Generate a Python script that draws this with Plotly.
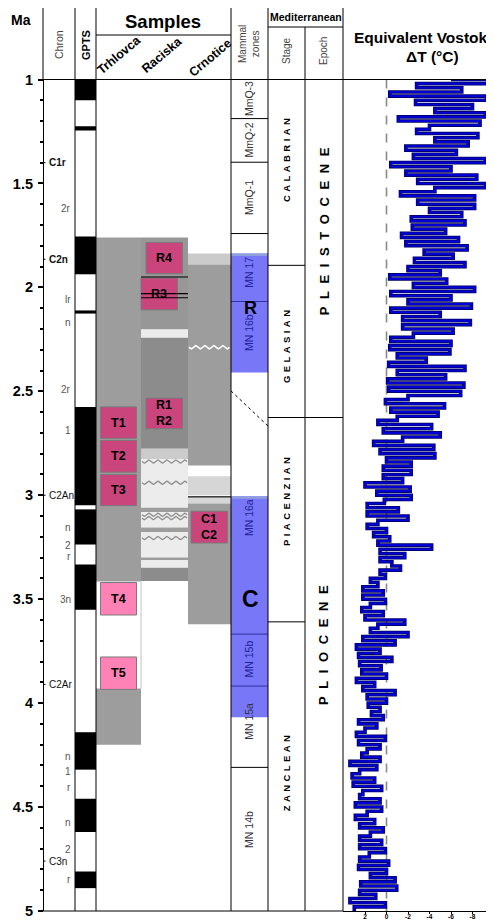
import math
import plotly.graph_objects as go

# ---------------- data ----------------
ma_tickvals = [1, 1.5, 2, 2.5, 3, 3.5, 4, 4.5, 5]
ma_ticktext = ["1", "1.5", "2", "2.5", "3", "3.5", "4", "4.5", "5"]

# GPTS normal-polarity (black) intervals, Ma
gpts_normal_top = [1.000, 1.225, 1.755, 2.111, 2.575, 3.068, 3.333, 4.140, 4.460, 4.810]
gpts_normal_base = [1.100, 1.245, 1.937, 2.126, 3.048, 3.237, 3.551, 4.320, 4.620, 4.890]

chron_major = ["C1r", "C2n", "C2An", "C2Ar", "C3n"]
chron_major_age = [1.40, 1.865, 3.00, 3.91, 4.76]
chron_sub = ["2r", "lr", "n", "2r", "1", "n", "2", "r", "3n", "n", "1", "r", "n", "2", "r"]
chron_sub_age = [1.62, 2.06, 2.17, 2.49, 2.69, 3.155, 3.24, 3.295, 3.50, 4.255, 4.33, 4.405, 4.575, 4.705, 4.85]

site_names = ["Trhlovca", "Raciska", "Crnotice"]

# lithology blocks in the sample columns
litho_site = ["Trhlovca", "Trhlovca",
              "Raciska", "Raciska", "Raciska", "Raciska", "Raciska", "Raciska", "Raciska",
              "Raciska", "Raciska", "Raciska", "Raciska", "Raciska",
              "Crnotice", "Crnotice", "Crnotice", "Crnotice", "Crnotice"]
litho_top = [1.760, 3.930,
             1.760, 2.203, 2.242, 2.776, 2.827, 3.060, 3.080, 3.155, 3.177, 3.300, 3.313, 3.349,
             1.837, 1.890, 2.908, 3.013, 3.040]
litho_base = [3.415, 4.200,
              2.203, 2.242, 2.776, 2.827, 3.060, 3.080, 3.155, 3.177, 3.300, 3.313, 3.349, 3.413,
              1.890, 2.857, 3.000, 3.040, 3.620]
litho_kind = ["mid", "mid",
              "mid2", "pale", "dark", "light", "pale", "mid", "pale", "mid", "pale", "mid", "pale", "dark",
              "light", "mid", "light2", "light2", "mid"]

raciska_wavy_age = [2.838, 2.940, 3.094, 3.110, 3.206]
crnotice_wavy_age = [2.288]
raciska_black_line_age = [1.950, 2.030, 2.050]
crnotice_black_line_age = [3.008]

sample_names = ["T1", "T2", "T3", "T4", "T5", "R4", "R3", "R1<br>R2", "C1<br>C2"]
sample_site = ["Trhlovca"] * 5 + ["Raciska"] * 3 + ["Crnotice"]
sample_top = [2.575, 2.736, 2.900, 3.420, 3.778, 1.784, 1.955, 2.533, 3.077]
sample_base = [2.726, 2.889, 3.050, 3.576, 3.934, 1.934, 2.108, 2.680, 3.230]
sample_light = [False, False, False, True, True, False, False, False, False]

mmq_names = ["MmQ-3", "MmQ-2", "MmQ-1"]
mmq_top = [1.000, 1.188, 1.398]
mmq_base = [1.188, 1.398, 1.741]
mn_names = ["MN 17", "MN 16b", "MN 16a", "MN 15b", "MN 15a", "MN 14b"]
mn_label_age = [1.93, 2.22, 3.11, 3.79, 4.09, 4.61]
mn_boundaries = [2.068, 3.668, 3.918]
mn_black_lines = [1.188, 1.398, 1.741, 4.309]
fauna_names = ["R", "C"]
fauna_top = [1.837, 3.005]
fauna_base = [2.409, 4.068]
fauna_label_age = [2.097, 3.50]
fauna_diag_age = [2.498, 2.667]

stage_names = ["CALABRIAN", "GELASIAN", "PIACENZIAN", "ZANCLEAN"]
stage_bounds = [1.894, 2.626, 3.609]
stage_label_age = [1.39, 2.285, 3.03, 4.34]
epoch_names = ["PLEISTOCENE", "PLIOCENE"]
epoch_bounds = [2.626]
epoch_label_age = [1.73, 3.72]

# Equivalent Vostok dT (deg C), one value every 0.02 Ma from 1.00 to 5.00
vostok_temp = [
    -6.0, -9.9, -2.8, -7.0, -0.3,   # 1.0
    -9.3, -2.7, -8.0, -4.5, -9.2,   # 1.1
    -1.1, -8.7, -4.0, -2.8, -8.5,   # 1.2
    -4.5, -7.6, -1.8, -6.5, -2.5,   # 1.3
    -9.2, -0.4, -6.0, -1.8, -8.4,   # 1.4
    -2.9, -9.2, -4.5, -1.3, -8.2,   # 1.5
    -2.9, -8.2, -4.0, -7.0, -2.3,   # 1.6
    -7.3, -2.4, -5.5, -1.4, -6.7,   # 1.7
    -1.8, -7.5, -3.5, -6.2, -2.6,   # 1.8
    -7.3, -2.0, -5.0, -0.3, -5.6,   # 1.9
    -2.5, -8.2, -0.4, -6.0, -2.0,   # 2.0
    -7.9, -0.4, -5.0, -1.5, -7.8,   # 2.1
    -1.5, -6.2, -2.5, -0.4, -6.0,   # 2.2
    -0.3, -5.9, -1.0, -3.7, -0.2,   # 2.3
    -7.3, -1.0, -5.5, -0.1, -7.2,   # 2.4
    -0.2, -6.9, -2.0, 0.1, -5.4,    # 2.5
    -0.4, -4.8, -1.0, 0.8, -4.2,    # 2.6
    0.3, -5.0, -1.5, 1.2, -4.4,     # 2.7
    0.6, -4.5, 0.0, -2.3, 0.3,      # 2.8
    -2.3, 0.3, -1.5, 2.0, -2.2,     # 2.9
    0.9, -2.3, 0.2, 1.8, -1.1,      # 3.0
    1.8, -2.0, 0.8, 1.8, 0.0,       # 3.1
    1.2, -0.3, 0.8, -4.2, 0.6,      # 3.2
    -1.7, 0.6, -0.5, -1.3, 0.6,     # 3.3
    0.1, 1.5, 0.8, 2.2, 0.3,        # 3.4
    2.2, 0.1, 1.5, 2.3, 0.3,        # 3.5
    2.0, -1.7, 0.8, 1.5, -2.0,      # 3.6
    2.2, -0.8, 2.8, 0.6, 2.6,       # 3.7
    -0.5, 2.5, 0.5, 2.3, 0.0,       # 3.8
    2.8, 1.1, 2.2, -0.8, 1.8,       # 3.9
    0.0, 1.7, 0.6, 1.4, 0.3,        # 4.0
    2.6, 0.9, 2.0, 2.8, 0.1,        # 4.1
    2.6, 0.6, 1.8, 2.3, 0.6,        # 4.2
    3.4, 0.9, 2.5, 3.2, 1.1,        # 4.3
    3.1, 0.45, 2.2, 2.5, 0.6,       # 4.4
    2.9, 0.45, 1.8, 2.9, 1.1,       # 4.5
    2.5, 0.3, 1.5, 2.5, 0.45,       # 4.6
    2.5, 0.1, 1.6, 2.5, -0.2,       # 4.7
    2.6, 0.0, 1.5, -0.8, 2.4,       # 4.8
    -0.95, 2.5, 1.0, 3.4, 0.1,      # 4.9
    3.0,                            # 5.0
]
vostok_age = [round(1.0 + 0.02 * i, 2) for i in range(len(vostok_temp))]
vostok_ticks = [2, 0, -2, -4, -6, -8]

# ---------------- layout constants (style) ----------------
FONT = "Liberation Sans, Arial, sans-serif"
OFF = 8                      # page body margin of the browser
W_SCR, H_SCR = 494, 922      # screen size
W, H = W_SCR - OFF, H_SCR - OFF
PX_TOP, PX_BOT = 79.5, 911.0
X_AX, X_CHR, X_GPTS, X_SMP, X_MAM, X_STG, X_EPO, X_END = 43, 75, 96, 231, 268, 305, 343, 494
HDR_TOP = 7
SITE_X = {"Trhlovca": (96, 141), "Raciska": (141, 188), "Crnotice": (188, 231)}
BOX_X = {"Trhlovca": (100.5, 136.5), "Raciska": (146, 182.5), "Crnotice": (191, 227.5)}
BOX_SHIFT = {"R3": -5}
LITHO_COL = {"mid": "#9d9d9d", "mid2": "#979797", "dark": "#8c8c8c", "light": "#cbcbcb",
             "light2": "#d6d6d6", "pale": "#ececec"}
BLUE = "#7777f8"
NBSP = "\u00a0"


def yp(pix):
    return 1 - (pix - OFF) / H


def xp(pix):
    return (pix - OFF) / W


shapes, annos = [], []


def add_rect(x0, x1, y0, y1, fill, lc=None, lw=0, xref="x", yref="y", layer="below"):
    shapes.append(dict(type="rect", xref=xref, yref=yref, x0=x0, x1=x1, y0=y0, y1=y1,
                       fillcolor=fill, line=dict(color=lc or fill, width=lw), layer=layer))


def add_line(x0, y0, x1, y1, color="black", width=1, dash="solid", xref="x", yref="y", layer="above"):
    shapes.append(dict(type="line", xref=xref, yref=yref, x0=x0, y0=y0, x1=x1, y1=y1,
                       line=dict(color=color, width=width, dash=dash), layer=layer))


def add_text(x, y, text, size=10, color="black", bold=False, angle=0, xref="x", yref="y",
             xanchor="center", yanchor="middle"):
    annos.append(dict(x=x, y=y, xref=xref, yref=yref, text=text, showarrow=False, textangle=angle,
                      xanchor=xanchor, yanchor=yanchor,
                      font=dict(family=FONT, size=size, color=color,
                                weight="bold" if bold else "normal")))


def spaced(word, sep):
    return sep.join(list(word))


fig = go.Figure()

# ---- GPTS ----
for t, b in zip(gpts_normal_top, gpts_normal_base):
    add_rect(X_CHR, X_GPTS, t, b, "black")

# ---- lithology ----
for s, t, b, k in zip(litho_site, litho_top, litho_base, litho_kind):
    x0, x1 = SITE_X[s]
    add_rect(x0, x1, t, b, LITHO_COL[k])

# ---- samples ----
for n, s, t, b, light in zip(sample_names, sample_site, sample_top, sample_base, sample_light):
    x0, x1 = BOX_X[s]
    sh = BOX_SHIFT.get(n, 0)
    add_rect(x0 + sh, x1 + sh, t, b, "#ff82b6" if light else "#c9457c", lc="#7a7a7a", lw=1)
    add_text((x0 + x1) / 2 + sh, (t + b) / 2, n, size=12.5, bold=True)

for a in raciska_black_line_age:
    add_line(SITE_X["Raciska"][0], a, SITE_X["Raciska"][1], a, width=1.2)
for a in crnotice_black_line_age:
    add_line(SITE_X["Crnotice"][0], a, SITE_X["Crnotice"][1], a, width=1.2)
add_line(141, 3.415, 141, 3.93, color="#c0c0c0", width=1)


def wave(age, x0, x1, amp=0.0075, period=9.0):
    xs, ys = [], []
    n = int((x1 - x0) / 0.75) + 1
    for i in range(n):
        x = x0 + i * 0.75
        xs.append(x)
        ys.append(age + amp * math.sin(2 * math.pi * (x - x0) / period))
    return xs, ys


for a in raciska_wavy_age:
    xs, ys = wave(a, 142, 187)
    fig.add_trace(go.Scatter(x=xs, y=ys, mode="lines", line=dict(color="#8e8e8e", width=1.3),
                             hoverinfo="skip", xaxis="x", yaxis="y"))
for a in crnotice_wavy_age:
    xs, ys = wave(a, 189, 230)
    fig.add_trace(go.Scatter(x=xs, y=ys, mode="lines", line=dict(color="white", width=1.6),
                             hoverinfo="skip", xaxis="x", yaxis="y"))

# ---- mammal zones ----
for n, t, b in zip(fauna_names, fauna_top, fauna_base):
    add_rect(X_SMP, X_MAM, t, b, BLUE)
    add_rect(X_SMP, X_MAM, t, t + 0.012, "#8f9fdc")
for a in mn_boundaries:
    add_line(X_SMP, a, X_MAM, a, color="#3030a0", width=1)
for a in mn_black_lines:
    add_line(X_SMP, a, X_MAM, a, color="black", width=1)
add_line(X_SMP, fauna_diag_age[0], X_MAM, fauna_diag_age[1], color="black", width=1, dash="dot")
for n, t, b in zip(mmq_names, mmq_top, mmq_base):
    add_text(249, (t + b) / 2, n, size=10.5, color="#333333", angle=-90)
for n, a in zip(mn_names, mn_label_age):
    inside = any(t <= a <= b for t, b in zip(fauna_top, fauna_base))
    add_text(249, a, n, size=10.5, color="#23239a" if inside else "#333344", angle=-90)
add_text(250, fauna_label_age[0], fauna_names[0], size=18, bold=True)
add_text(250, fauna_label_age[1], fauna_names[1], size=23, bold=True)

# ---- stage / epoch ----
for a in stage_bounds:
    add_line(X_MAM, a, X_STG, a)
for a in epoch_bounds:
    add_line(X_STG, a, X_EPO, a)
for n, a in zip(stage_names, stage_label_age):
    add_text(286.5, a, spaced(n, NBSP + "\u200a"), size=9.5, bold=True, angle=-90)
for n, a in zip(epoch_names, epoch_label_age):
    add_text(324, a, spaced(n, "\u2002\u200a"), size=13, bold=True, angle=-90)

# ---- chron labels ----
for n, a in zip(chron_major, chron_major_age):
    add_text(46.5, a, n, size=10, bold=n in ("C1r", "C2n"), color="#111111", xanchor="left")
    add_line(X_AX, a, X_AX + 2.5, a, width=1)
for n, a in zip(chron_sub, chron_sub_age):
    add_text(72.5, a, n, size=10, color="#555555", xanchor="right")

# ---- Vostok ----
shapes.append(dict(type="line", xref="x2", yref="y", x0=0, x1=0, y0=1.0, y1=5.0,
                   line=dict(color="#8a8a8a", width=1.6, dash="dash"), layer="below"))
fig.add_trace(go.Scatter(x=vostok_temp, y=vostok_age, xaxis="x2", yaxis="y", mode="lines",
                         line=dict(color="#00005a", width=3.6, shape="hv"), hoverinfo="skip"))
fig.add_trace(go.Scatter(x=vostok_temp, y=vostok_age, xaxis="x2", yaxis="y", mode="lines",
                         line=dict(color="#0000d4", width=2.1, shape="hv"), hoverinfo="skip"))

# ---- frame lines (paper) ----
def pline(x0, y0, x1, y1, width=1, color="black"):
    shapes.append(dict(type="line", xref="paper", yref="paper", x0=xp(x0), y0=yp(y0),
                       x1=xp(x1), y1=yp(y1), line=dict(color=color, width=width), layer="above"))


pline(X_AX, HDR_TOP, X_END, HDR_TOP, width=1.3)
pline(X_AX - 3, PX_TOP, X_END, PX_TOP, width=1.2)
pline(X_GPTS, 35, X_SMP, 35)
pline(X_MAM, 27, X_EPO, 27)
for xv in (X_AX, X_CHR, X_GPTS, X_SMP, X_MAM, X_EPO):
    pline(xv, HDR_TOP, xv, PX_TOP)
pline(X_STG, 27, X_STG, PX_TOP)
for xv in (X_CHR, X_GPTS, X_SMP, X_MAM, X_STG, X_EPO):
    pline(xv, PX_TOP, xv, PX_BOT)
pline(X_AX, PX_BOT, X_EPO, PX_BOT)

# ---- header texts ----
def htext(x, y, text, **kw):
    add_text(xp(x), yp(y), text, xref="paper", yref="paper", **kw)


htext(21, 20, "Ma", size=14, bold=True)
htext(59, 45, "Chron", size=10.5, color="#444444", angle=-90)
htext(86, 45, "GPTS", size=11, bold=True, angle=-90)
htext(163, 21, "Samples", size=18.5, bold=True)
htext(119, 55, site_names[0], size=12.5, bold=True, angle=-40)
htext(162, 55, site_names[1], size=12.5, bold=True, angle=-40)
htext(210, 58, site_names[2], size=12.5, bold=True, angle=-40)
htext(249, 44, "Mammal<br>zones", size=10, color="#444444", angle=-90)
htext(306, 17.5, "Mediterranean", size=10.5, bold=True)
htext(287, 51, "Stage", size=10, color="#444444", angle=-90)
htext(324, 51, "Epoch", size=10, color="#444444", angle=-90)
htext(421, 38, "Equivalent Vostok", size=15.5, bold=True)
htext(432, 57, "\u0394T (\u00b0C)", size=15.5, bold=True)

minor_vals = [round(1 + 0.1 * i, 1) for i in range(41) if i % 5 != 0]

fig.update_layout(
    template="none",
    width=W, height=H, margin=dict(l=0, r=0, t=0, b=0, pad=0, autoexpand=False),
    paper_bgcolor="white", plot_bgcolor="white", showlegend=False,
    font=dict(family=FONT),
    xaxis=dict(domain=[0, 1], range=[OFF, W_SCR], visible=False, fixedrange=True, automargin=False),
    yaxis=dict(domain=[yp(PX_BOT), yp(PX_TOP)], range=[5, 1], anchor="free", position=xp(X_AX),
               automargin=False,
               tickmode="array", tickvals=ma_tickvals, ticktext=ma_ticktext,
               ticks="outside", ticklen=5, tickwidth=1.5, tickcolor="black",
               showline=True, linecolor="black", linewidth=1.2, showgrid=False, zeroline=False,
               tickfont=dict(family=FONT, size=14.5, color="black", weight="bold"),
               ticklabelstandoff=2,
               minor=dict(tickmode="array", tickvals=minor_vals, ticks="outside", ticklen=3,
                          tickcolor="black", showgrid=False)),
    xaxis2=dict(domain=[xp(X_EPO), 1], range=[4.047, -10.0], anchor="y", automargin=False,
                tickmode="array", tickvals=vostok_ticks, ticktext=[str(v) for v in vostok_ticks],
                ticks="outside", ticklen=2, tickcolor="black", ticklabelstandoff=-3,
                showline=True, linecolor="black", linewidth=1.2, showgrid=False, zeroline=False,
                tickfont=dict(family=FONT, size=6.5, color="black", weight="bold")),
    shapes=shapes, annotations=annos,
)

fig.write_html("out.html")
